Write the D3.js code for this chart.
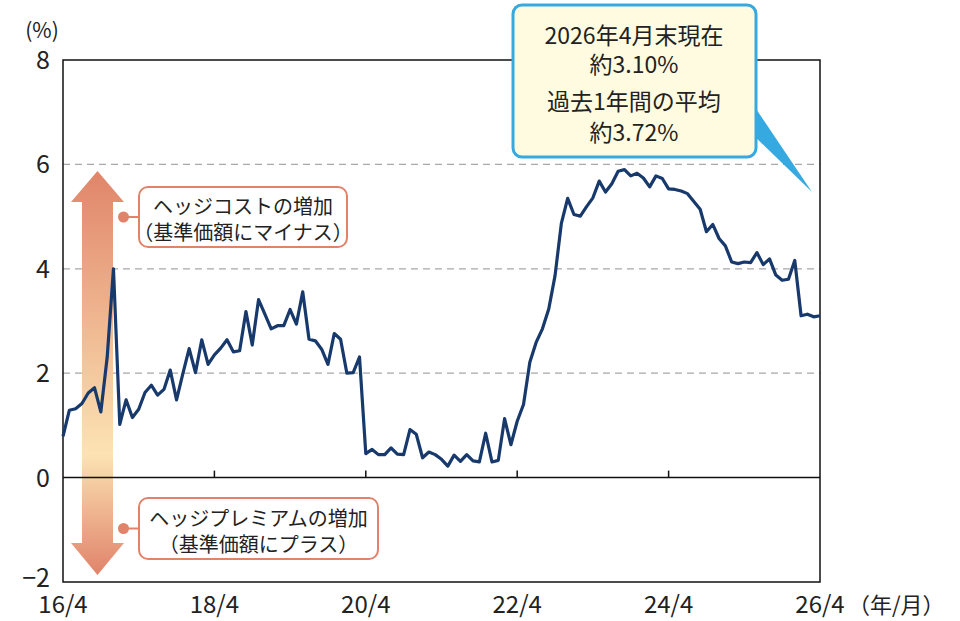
<!DOCTYPE html>
<html>
<head>
<meta charset="utf-8">
<script src="https://cdn.jsdelivr.net/npm/d3@7/dist/d3.min.js"></script>
<style>
  body { margin: 0; background: #fff; }
  svg text { font-family: "Noto Sans CJK JP", "Noto Sans", sans-serif; fill: #222; }
</style>
</head>
<body>
<div id="chart"></div>
<script>
// monthly values from 2016/4 to 2026/4 (%)
var values2016 = [0.79, 1.29, 1.32, 1.42, 1.62, 1.72, 1.26, 2.30, 4.00];
var values2017 = [1.02, 1.49, 1.15, 1.31, 1.63, 1.77, 1.58, 1.69, 2.06, 1.49, 1.99, 2.47];
var values2018 = [2.01, 2.64, 2.17, 2.35, 2.48, 2.64, 2.41, 2.43, 3.18, 2.54, 3.41, 3.13];
var values2019 = [2.85, 2.91, 2.91, 3.22, 2.94, 3.56, 2.65, 2.62, 2.46, 2.17, 2.76, 2.65];
var values2020 = [2.00, 2.01, 2.31, 0.46, 0.54, 0.44, 0.44, 0.57, 0.45, 0.44, 0.92, 0.83];
var values2021 = [0.38, 0.49, 0.44, 0.35, 0.22, 0.43, 0.31, 0.44, 0.32, 0.30, 0.85, 0.30];
var values2022 = [0.33, 1.13, 0.63, 1.08, 1.40, 2.21, 2.59, 2.85, 3.23, 3.87, 4.87, 5.35];
var values2023 = [5.04, 5.01, 5.19, 5.36, 5.68, 5.47, 5.63, 5.87, 5.90, 5.78, 5.83, 5.74];
var values2024 = [5.57, 5.78, 5.73, 5.53, 5.52, 5.49, 5.44, 5.29, 5.14, 4.71, 4.85, 4.58];
var values2025 = [4.44, 4.13, 4.10, 4.13, 4.12, 4.31, 4.08, 4.19, 3.88, 3.78, 3.80, 4.16];
var values2026 = [3.10, 3.13, 3.08, 3.10];

var values = [].concat(values2016, values2017, values2018, values2019, values2020,
    values2021, values2022, values2023, values2024, values2025, values2026);

var yTicks = [-2, 0, 2, 4, 6, 8];
var gridTicks = [2, 4, 6];
var xTickMonths = [0, 24, 48, 72, 96, 120];
var xTickLabels = ['16/4', '18/4', '20/4', '22/4', '24/4', '26/4'];

var noteLines = ['2026年4月末現在', '約3.10%', '過去1年間の平均', '約3.72%'];
var costLines = ['ヘッジコストの増加', '（基準価額にマイナス）'];
var premiumLines = ['ヘッジプレミアムの増加', '（基準価額にプラス）'];

var width = 960, height = 621;
var margin = { top: 60, right: 140, bottom: 39, left: 63 };

var svg = d3.select('#chart')
    .append('svg')
    .attr('width', width)
    .attr('height', height);

var x = d3.scaleLinear()
    .domain([0, 120])
    .range([margin.left, width - margin.right]);

var y = d3.scaleLinear()
    .domain([-2, 8])
    .range([height - margin.bottom, margin.top]);

var salmon = '#E0836A';

// gradient for the double arrow
var defs = svg.append('defs');
var grad = defs.append('linearGradient')
    .attr('id', 'arrowGrad')
    .attr('gradientUnits', 'userSpaceOnUse')
    .attr('x1', 0).attr('x2', 0)
    .attr('y1', 171).attr('y2', 575);
grad.append('stop').attr('offset', 0).attr('stop-color', '#E0856A');
grad.append('stop').attr('offset', 0.7).attr('stop-color', '#FCE3B3');
grad.append('stop').attr('offset', 1).attr('stop-color', '#E0836A');

// gridlines
svg.append('g')
    .selectAll('line')
    .data(gridTicks)
    .join('line')
    .attr('x1', x(0)).attr('x2', x(120))
    .attr('y1', d => y(d)).attr('y2', d => y(d))
    .attr('stroke', '#a8a8a8')
    .attr('stroke-width', 1.3)
    .attr('stroke-dasharray', '7,5');

// double arrow
var ax = 97.5;
svg.append('path')
    .attr('d', d3.line()([
        [ax, 171], [ax + 26.5, 202], [ax + 15.5, 202], [ax + 15.5, 543], [ax + 26.5, 543],
        [ax, 575], [ax - 26.5, 543], [ax - 15.5, 543], [ax - 15.5, 202], [ax - 26.5, 202]
    ]) + 'Z')
    .attr('fill', 'url(#arrowGrad)');

// frame and zero line
svg.append('rect')
    .attr('x', x(0)).attr('y', y(8))
    .attr('width', x(120) - x(0))
    .attr('height', y(-2) - y(8))
    .attr('fill', 'none')
    .attr('stroke', '#111')
    .attr('stroke-width', 1.5);

svg.append('line')
    .attr('x1', x(0)).attr('x2', x(120))
    .attr('y1', y(0)).attr('y2', y(0))
    .attr('stroke', '#111')
    .attr('stroke-width', 1.5);

// ticks on zero line
svg.append('g')
    .selectAll('line')
    .data(xTickMonths.slice(1, -1))
    .join('line')
    .attr('x1', d => x(d)).attr('x2', d => x(d))
    .attr('y1', y(0) - 7).attr('y2', y(0))
    .attr('stroke', '#111')
    .attr('stroke-width', 1.5);

// y labels
svg.append('g')
    .selectAll('text')
    .data(yTicks)
    .join('text')
    .attr('x', 50)
    .attr('y', d => y(d) + (d < 0 ? 5 : 9))
    .attr('text-anchor', 'end')
    .attr('font-size', 25)
    .text(d => d < 0 ? '\u2212' + Math.abs(d) : d);

svg.append('text')
    .attr('x', 42).attr('y', 38)
    .attr('text-anchor', 'middle')
    .attr('font-size', 21)
    .text('(%)');

// x labels
svg.append('g')
    .selectAll('text')
    .data(xTickMonths)
    .join('text')
    .attr('x', d => x(d))
    .attr('y', 613)
    .attr('text-anchor', 'middle')
    .attr('font-size', 24)
    .text((d, i) => xTickLabels[i]);

svg.append('text')
    .attr('x', 848).attr('y', 613)
    .attr('font-size', 22)
    .text('（年/月）');

// the line
svg.append('path')
    .datum(values)
    .attr('d', d3.line().x((d, i) => x(i)).y(d => y(d)))
    .attr('fill', 'none')
    .attr('stroke', '#17396C')
    .attr('stroke-width', 3.2)
    .attr('stroke-linejoin', 'round');

// label boxes next to the arrow
function labelBox(bx, by, bw, bh, lines, baseY) {
    var g = svg.append('g');
    g.append('line')
        .attr('x1', ax + 26).attr('x2', bx)
        .attr('y1', by + bh / 2).attr('y2', by + bh / 2)
        .attr('stroke', salmon).attr('stroke-width', 2);
    g.append('circle')
        .attr('cx', ax + 26).attr('cy', by + bh / 2)
        .attr('r', 5.5)
        .attr('fill', salmon);
    g.append('rect')
        .attr('x', bx).attr('y', by)
        .attr('width', bw).attr('height', bh)
        .attr('rx', 9)
        .attr('fill', '#fff')
        .attr('stroke', salmon)
        .attr('stroke-width', 2);
    g.selectAll('text')
        .data(lines)
        .join('text')
        .attr('x', bx + bw / 2)
        .attr('y', (d, i) => baseY + i * 26)
        .attr('text-anchor', 'middle')
        .attr('font-size', 20)
        .text(d => d);
}
labelBox(139, 187, 208, 60, costLines, 214);
labelBox(139, 498, 239, 61, premiumLines, 526);

// callout
svg.append('path')
    .attr('d', d3.line()([[750, 100], [750, 132], [x(120) - 8, 192]]) + 'Z')
    .attr('fill', '#36A9E0');

svg.append('rect')
    .attr('x', 513).attr('y', 5)
    .attr('width', 243).attr('height', 152)
    .attr('rx', 9)
    .attr('fill', '#FEFBE0')
    .attr('stroke', '#36A9E0')
    .attr('stroke-width', 3);

svg.append('g')
    .selectAll('text')
    .data(noteLines)
    .join('text')
    .attr('x', 634)
    .attr('y', (d, i) => [44, 73, 110, 141][i])
    .attr('text-anchor', 'middle')
    .attr('font-size', 23)
    .text(d => d);
</script>
</body>
</html>
